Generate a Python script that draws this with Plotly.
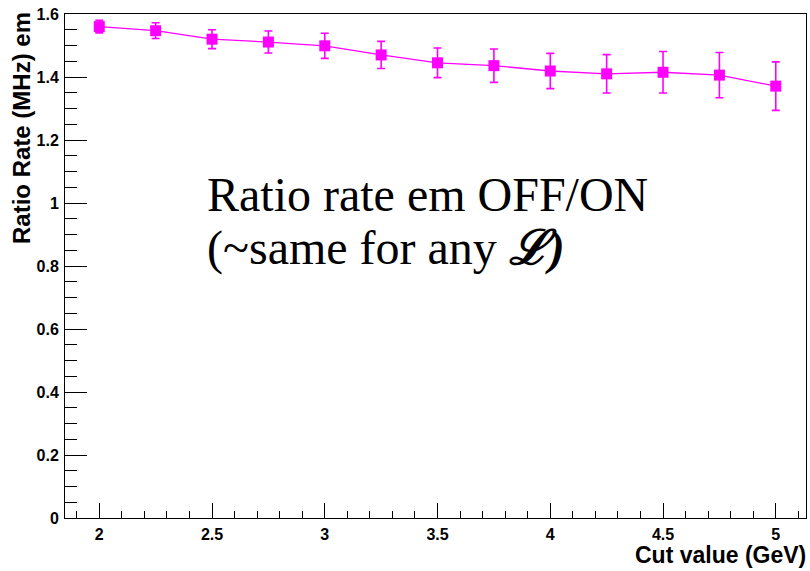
import plotly.graph_objects as go

cut_values = [2.0, 2.25, 2.5, 2.75, 3.0, 3.25, 3.5, 3.75, 4.0, 4.25, 4.5, 4.75, 5.0]
ratio = [1.560, 1.547, 1.520, 1.511, 1.499, 1.470, 1.445, 1.436, 1.419, 1.410, 1.415, 1.406, 1.371]
ratio_err = [0.020, 0.025, 0.030, 0.035, 0.040, 0.043, 0.047, 0.053, 0.056, 0.061, 0.066, 0.072, 0.077]

x_title = "Cut value (GeV)"
y_title = "Ratio Rate (MHz) em"
note_line1 = "Ratio rate em OFF/ON"
note_line2 = "(~same for any <b><i>ℒ)</i></b>"

MAG = "#ff00ff"

fig = go.Figure()
fig.add_trace(go.Scatter(
    x=cut_values, y=ratio,
    mode="lines+markers",
    line=dict(color=MAG, width=1.3),
    marker=dict(symbol="square", size=11, color=MAG),
    error_y=dict(type="data", array=ratio_err, visible=True,
                 color=MAG, thickness=1.6, width=4),
    showlegend=False,
))

tickfont = dict(family="Liberation Sans, Arial, sans-serif", size=16,
                color="black", weight="bold")

fig.update_layout(
    width=810, height=571,
    margin=dict(l=65, r=4, t=14, b=53),
    paper_bgcolor="white", plot_bgcolor="white",
    xaxis=dict(
        range=[1.848, 5.134], showgrid=False, zeroline=False,
        showline=True, linecolor="black", linewidth=1, mirror=True,
        ticks="inside", ticklen=15, tickwidth=1, tickcolor="black",
        tick0=2, dtick=0.5, tickfont=tickfont, ticklabelstandoff=2,
        minor=dict(ticks="inside", ticklen=7, dtick=0.1, tick0=2,
                   tickcolor="black", tickwidth=1, showgrid=False),
    ),
    yaxis=dict(
        range=[0, 1.6], showgrid=False, zeroline=False,
        showline=True, linecolor="black", linewidth=1, mirror=True,
        ticks="inside", ticklen=22, tickwidth=1, tickcolor="black",
        tickfont=tickfont, ticklabelstandoff=2,
        tickvals=[0, 0.2, 0.4, 0.6, 0.8, 1.0, 1.2, 1.4, 1.6],
        ticktext=["0", "0.2", "0.4", "0.6", "0.8", "1", "1.2", "1.4", "1.6"],
        minor=dict(ticks="inside", ticklen=12, dtick=0.05, tick0=0,
                   tickcolor="black", tickwidth=1, showgrid=False),
    ),
    annotations=[
        dict(text=f"<b>{y_title}</b>", xref="paper", yref="paper",
             x=0, y=1, xanchor="center", yanchor="top", xshift=-44, yshift=4,
             textangle=-90, showarrow=False,
             font=dict(family="Liberation Sans, Arial, sans-serif", size=24, color="black")),
        dict(text=f"<b>{x_title}</b>", xref="paper", yref="paper",
             x=1, y=0, xanchor="right", yanchor="middle", xshift=2, yshift=-37,
             showarrow=False,
             font=dict(family="Liberation Sans, Arial, sans-serif", size=23, color="black")),
        dict(text=note_line1, xref="paper", yref="paper",
             x=0.189, y=0.641, xanchor="left", yanchor="middle",
             showarrow=False,
             font=dict(family="Liberation Serif, Times New Roman, serif", size=48, color="black")),
        dict(text=note_line2, xref="paper", yref="paper",
             x=0.189, y=0.536, xanchor="left", yanchor="middle",
             showarrow=False,
             font=dict(family="Liberation Serif, Times New Roman, serif", size=48, color="black")),
    ],
)

fig.write_html("out.html")
